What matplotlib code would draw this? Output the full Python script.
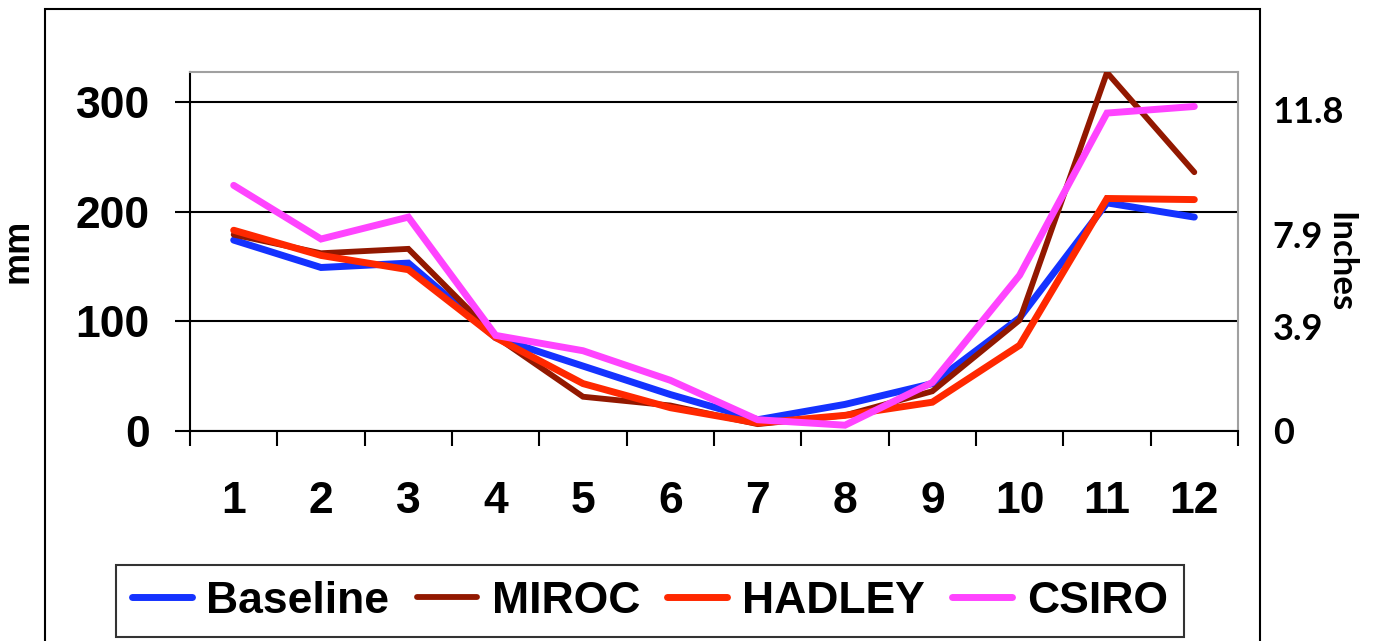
import numpy as np
import matplotlib
matplotlib.use("Agg")
import matplotlib.pyplot as plt
from matplotlib.patches import Rectangle

# Monthly precipitation (mm)
months = np.arange(1, 13)
month_labels = [str(m) for m in months]
baseline = [174, 149, 153, 85, 59, 33, 10, 24, 43, 103, 208, 195]
miroc = [179, 162, 166, 86, 31, 23, 6, 14, 36, 101, 327, 236]
hadley = [183, 160, 147, 85, 43, 21, 7, 14, 26, 78, 212, 211]
csiro = [224, 175, 195, 87, 73, 46, 10, 5, 44, 142, 290, 296]

series = {'Baseline': baseline, 'MIROC': miroc, 'HADLEY': hadley, 'CSIRO': csiro}
colors = {'Baseline': '#1432FF', 'MIROC': '#921800', 'HADLEY': '#FF2800', 'CSIRO': '#FF44FF'}
widths = {'Baseline': 5, 'MIROC': 4.2, 'HADLEY': 5, 'CSIRO': 5}

mm_ticks = [0, 100, 200, 300]
# secondary (inches) labels, placed where the original chart put them
inch_labels = ['0', '3.9', '7.9', '11.8']
inch_label_pos = [0, 95, 179, 293]

plt.rcParams['font.family'] = ['Liberation Sans', 'DejaVu Sans']
plt.rcParams['font.weight'] = 'bold'

fig = plt.figure(figsize=(13.74, 6.41), dpi=100)
ax = fig.add_axes([0.1383, 0.3281, 0.7627, 0.5596])

for name, vals in series.items():
    ax.plot(months, vals, color=colors[name], lw=widths[name], label=name,
            solid_capstyle='round', solid_joinstyle='miter', zorder=3)

ax.set_xlim(0.5, 12.5)
ax.set_ylim(0, 327.5)

# y axis
ax.set_yticks(mm_ticks)
ax.set_yticklabels([str(t) for t in mm_ticks], fontsize=32, fontweight='bold')
ax.tick_params(axis='y', direction='out', length=11, width=1.5, pad=18)
ax.grid(axis='y', color='black', lw=1.5, zorder=1)

# x axis: ticks between categories, labels at the centres
ax.set_xticks(np.arange(0.5, 13, 1))
ax.set_xticklabels([])
ax.set_xticks(months, minor=True)
ax.set_xticklabels(month_labels, minor=True, fontsize=32, fontweight='bold')
ax.tick_params(axis='x', which='major', direction='out', length=11, width=1.5)
ax.tick_params(axis='x', which='minor', length=0, pad=36)

for s in ['left', 'bottom']:
    ax.spines[s].set_linewidth(1.5)
    ax.spines[s].set_color('black')
for s in ['top', 'right']:
    ax.spines[s].set_linewidth(1.5)
    ax.spines[s].set_color('#A0A0A0')

ax.set_ylabel('mm', fontsize=26, fontweight='bold', rotation=90, ha='center', va='center')
ax.yaxis.set_label_coords(-0.164, 0.50)

# right side inch labels
ax2 = ax.twinx()
ax2.set_ylim(ax.get_ylim())
ax2.set_yticks(inch_label_pos)
ax2.set_yticklabels(inch_labels, fontsize=26, fontweight='bold', family=['Lato', 'DejaVu Sans'])
ax2.tick_params(axis='y', length=0, pad=25)
for s in ax2.spines.values():
    s.set_visible(False)
ax2.set_ylabel('Inches', fontsize=25, fontweight='bold', family=['Lato', 'DejaVu Sans'],
               rotation=-90, ha='center', va='center')
ax2.yaxis.set_label_coords(1.0973, 0.47)

leg = ax.legend(loc='center', bbox_to_anchor=(0.473, 0.0624), bbox_transform=fig.transFigure,
                ncol=4, fontsize=32, frameon=True, fancybox=False, handlelength=1.35,
                handletextpad=0.33, columnspacing=0.62, borderpad=0.35, borderaxespad=0)
leg.get_frame().set_edgecolor('black')
leg.get_frame().set_linewidth(1.5)
for t in leg.get_texts():
    t.set_fontweight('bold')

# outer chart frame (cropped at the bottom)
fig.add_artist(Rectangle((0.0328, -0.1), 0.8843, 1.086, transform=fig.transFigure,
                         fill=False, lw=1.5, edgecolor='black'))

fig.savefig('out.png', dpi=100)
